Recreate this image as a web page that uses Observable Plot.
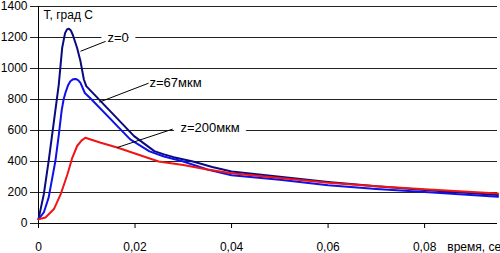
<!DOCTYPE html>
<html><head><meta charset="utf-8">
<script src="https://cdn.jsdelivr.net/npm/d3@7"></script>
<script src="https://cdn.jsdelivr.net/npm/@observablehq/plot@0.6"></script>
<style>
body{margin:0;background:#fff;overflow:hidden}
</style>
</head><body><div id="chart"></div>
<script>
// Series: time (s) and temperature (°C)
const seriesNames = ["z=0", "z=67мкм", "z=200мкм"];
const seriesColors = ["#0a0a80", "#1010e8", "#f01414"];

const time0 = [0, 0.0011, 0.0021, 0.0032, 0.0042, 0.0049, 0.0055, 0.0059, 0.0063, 0.0067, 0.0071, 0.0080, 0.0087, 0.0094, 0.0099, 0.0198, 0.024, 0.026, 0.028, 0.032, 0.036, 0.04, 0.05, 0.06, 0.07, 0.08, 0.0952];
const temp0 = [28, 189, 403, 660, 896, 1132, 1228, 1252, 1257, 1245, 1218, 1132, 1046, 929, 886, 564, 467, 446, 428, 400, 365, 336, 302, 268, 240, 216, 184];

const time67 = [0, 0.0011, 0.0021, 0.0035, 0.0042, 0.0048, 0.0052, 0.0056, 0.0061, 0.0066, 0.0072, 0.0077, 0.0082, 0.0087, 0.0096, 0.0108, 0.019, 0.023, 0.026, 0.030, 0.035, 0.04, 0.05, 0.06, 0.07, 0.08, 0.0952];
const temp67 = [28, 71, 167, 403, 570, 730, 800, 845, 890, 918, 931, 933, 925, 907, 842, 806, 543, 465, 432, 400, 348, 311, 282, 247, 223, 204, 172];

const time200 = [0, 0.00145, 0.0032, 0.0046, 0.006, 0.007, 0.008, 0.0089, 0.0097, 0.0129, 0.0163, 0.0249, 0.030, 0.035, 0.04, 0.05, 0.06, 0.07, 0.08, 0.0952];
const temp200 = [28, 39, 93, 189, 318, 424, 500, 535, 553, 521, 490, 400, 378, 348, 324, 294, 263, 240, 221, 193];

const xTicks = [0, 0.02, 0.04, 0.06, 0.08];
const yTicks = [0, 200, 400, 600, 800, 1000, 1200, 1400];

// annotation labels: text, label anchor (t,T), leader start on curve (t,T), leader end (t,T)
const annText = ["z=0", "z=67мкм", "z=200мкм"];
const annLabelT = [0.0143, 0.0230, 0.0294];
const annLabelV = [1200, 907, 615];
const annFromT = [0.0087, 0.0126, 0.0163];
const annFromV = [1111, 783, 490];
const annToT = [0.0139, 0.0228, 0.0278];
const annToV = [1175, 905, 609];

const yTitle = "Т, град С";
const xTitle = "время, сек";

const times = [time0, time67, time200];
const temps = [temp0, temp67, temp200];
const rows = seriesNames.flatMap((s, i) => times[i].map((t, j) => ({series: s, t, T: temps[i][j]})));
const ann = annText.map((text, i) => ({text, lt: annLabelT[i], lv: annLabelV[i], ft: annFromT[i], fv: annFromV[i], tt: annToT[i], tv: annToV[i]}));

const fmt = d => d === 0 ? "0" : d.toFixed(2).replace(".", ",");

const plot = Plot.plot({
  width: 500, height: 253,
  marginLeft: 38, marginRight: 3, marginTop: 6, marginBottom: 30,
  style: {fontFamily: "'Liberation Sans', Arial, sans-serif", fontSize: "12px", background: "white", color: "black"},
  x: {domain: [0, 0.0951], label: null},
  y: {domain: [0, 1400], label: null},
  color: {domain: seriesNames, range: seriesColors},
  marks: [
    Plot.gridY(yTicks, {stroke: "#222", strokeOpacity: 1}),
    Plot.axisY(yTicks, {tickSize: 8, tickPadding: 3, tickFormat: d => String(d), fontSize: 12, stroke: "#222"}),
    Plot.axisX(xTicks, {tickSize: 5, tickPadding: 14, tickFormat: fmt, fontSize: 12}),
    Plot.ruleY([0], {stroke: "black"}),
    Plot.ruleX([0], {stroke: "black"}),
    Plot.line(rows, {x: "t", y: "T", z: "series", stroke: "series", strokeWidth: 2, curve: "linear"}),
    Plot.text(ann, {x: "lt", y: "lv", text: "text", textAnchor: "start", lineAnchor: "middle", fontSize: 13, fill: "black", stroke: "white", strokeWidth: 14}),
    Plot.link(ann, {x1: "ft", y1: "fv", x2: "tt", y2: "tv", stroke: "black", strokeWidth: 1}),
    Plot.text([yTitle], {frameAnchor: "top-left", dx: 5, dy: 4, lineAnchor: "top", textAnchor: "start", fontSize: 12, fill: "black"}),
    Plot.text([xTitle], {x: () => 0.0847, frameAnchor: "bottom", lineAnchor: "bottom", textAnchor: "start", dy: 27, fontSize: 12, fill: "black"})
  ]
});
document.getElementById("chart").appendChild(plot);
</script>
</body></html>
